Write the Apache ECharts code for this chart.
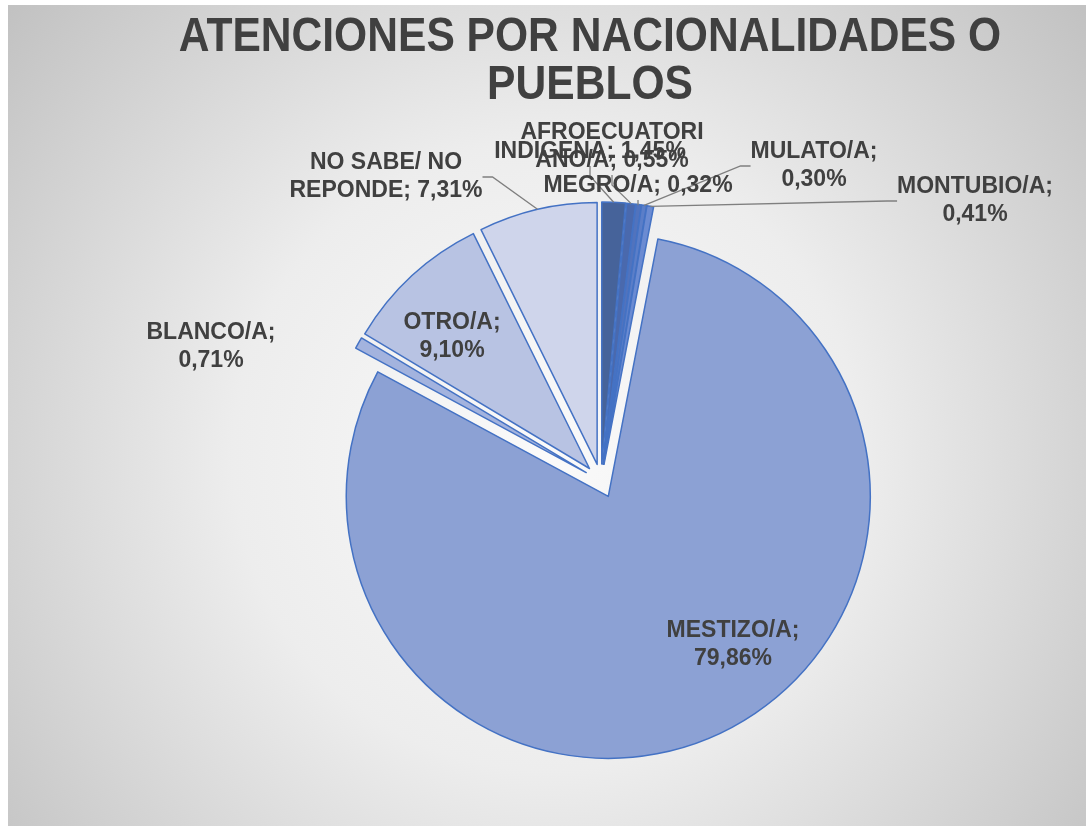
<!DOCTYPE html>
<html>
<head>
<meta charset="utf-8">
<script src="https://cdn.jsdelivr.net/npm/echarts@6/dist/echarts.min.js"></script>
<style>
  html, body { margin: 0; padding: 0; background: #fff; }
  #chart { position: absolute; left: 8px; top: 5px; width: 1078px; height: 821px; }
</style>
</head>
<body>
<div id="chart"></div>
<script>
// datos
const categories = ['INDIGENA', 'AFROECUATORIANO/A', 'MEGRO/A', 'MULATO/A', 'MONTUBIO/A',
  'MESTIZO/A', 'BLANCO/A', 'OTRO/A', 'NO SABE/ NO REPONDE'];
const values = [1.45, 0.55, 0.32, 0.30, 0.41, 79.86, 0.71, 9.10, 7.31];
const colors = ['#46639a', '#4a69ad', '#5173bd', '#5b7ec8', '#6b8bd2',
  '#8ca1d4', '#a3b3de', '#b8c3e3', '#cfd5eb'];
// donde parte cada etiqueta en dos lineas
const breakAt = ['', 'AFROECUATORI', '', 'MULATO/A;', 'MONTUBIO/A;', 'MESTIZO/A;', 'BLANCO/A;', 'OTRO/A;', 'NO SABE/ NO'];
// posicion de cada etiqueta (centro del texto)
const labelPos = [[582, 147], [604, 142], [630, 181], [806, 161], [967, 196],
  [725, 640], [203, 342], [444, 332], [378, 172]];
const noLine = ['MESTIZO/A', 'BLANCO/A', 'OTRO/A'];

const center = [593, 476];
const radius = 262;
const explode = 17;

function labelText(i) {
  let full = categories[i] + '; ' + values[i].toFixed(2).replace('.', ',') + '%';
  let b = breakAt[i];
  if (b) full = b + '\n' + full.slice(b.length).trim();
  return full;
}

const myChart = echarts.init(document.getElementById('chart'));
myChart.setOption({
  backgroundColor: {
    type: 'radial', x: 0.5, y: 0.55, r: 0.85,
    colorStops: [
      { offset: 0, color: '#fafafa' },
      { offset: 0.45, color: '#ededed' },
      { offset: 1, color: '#c2c2c2' }
    ]
  },
  // titulo angosto (Arial Narrow en el original)
  graphic: [{
    type: 'text',
    x: 582,
    y: 9,
    scaleX: 0.887,
    silent: true,
    style: {
      text: 'ATENCIONES POR NACIONALIDADES O\nPUEBLOS',
      fontFamily: '"Liberation Sans", Arial, sans-serif',
      fontWeight: 'bold',
      fontSize: 48,
      lineHeight: 48,
      fill: '#404040',
      align: 'center',
      verticalAlign: 'top'
    }
  }],
  series: [
    {
      // porciones separadas
      type: 'pie',
      z: 2,
      center: center,
      radius: radius,
      startAngle: 90,
      clockwise: true,
      selectedMode: 'multiple',
      selectedOffset: explode,
      animation: false,
      silent: true,
      itemStyle: { borderColor: '#4472c4', borderWidth: 1.5 },
      label: { show: false },
      labelLine: { show: false },
      select: { itemStyle: { borderColor: '#4472c4', borderWidth: 1.5 } },
      data: categories.map((c, i) => ({
        name: c,
        value: values[i],
        selected: true,
        itemStyle: { color: colors[i] },
        select: { itemStyle: { color: colors[i] } }
      }))
    },
    {
      // solo etiquetas, radio = borde de la porcion separada
      type: 'pie',
      z: 6,
      center: center,
      radius: radius + explode,
      startAngle: 90,
      clockwise: true,
      avoidLabelOverlap: false,
      animation: false,
      silent: true,
      itemStyle: { color: 'rgba(0,0,0,0)', borderWidth: 0 },
      label: {
        formatter: p => labelText(p.dataIndex),
        fontFamily: '"Liberation Sans", Arial, sans-serif',
        fontWeight: 'bold',
        fontSize: 23,
        lineHeight: 28,
        color: '#404040',
        align: 'center'
      },
      labelLine: { show: true, length: 10, length2: 10, lineStyle: { color: '#7f7f7f', width: 1.3 } },
      labelLayout: p => ({
        x: labelPos[p.dataIndex][0],
        y: labelPos[p.dataIndex][1],
        align: 'center',
        verticalAlign: 'middle'
      }),
      data: categories.map((c, i) => ({
        name: c,
        value: values[i],
        labelLine: { show: noLine.indexOf(c) < 0 }
      }))
    }
  ]
});
</script>
</body>
</html>
